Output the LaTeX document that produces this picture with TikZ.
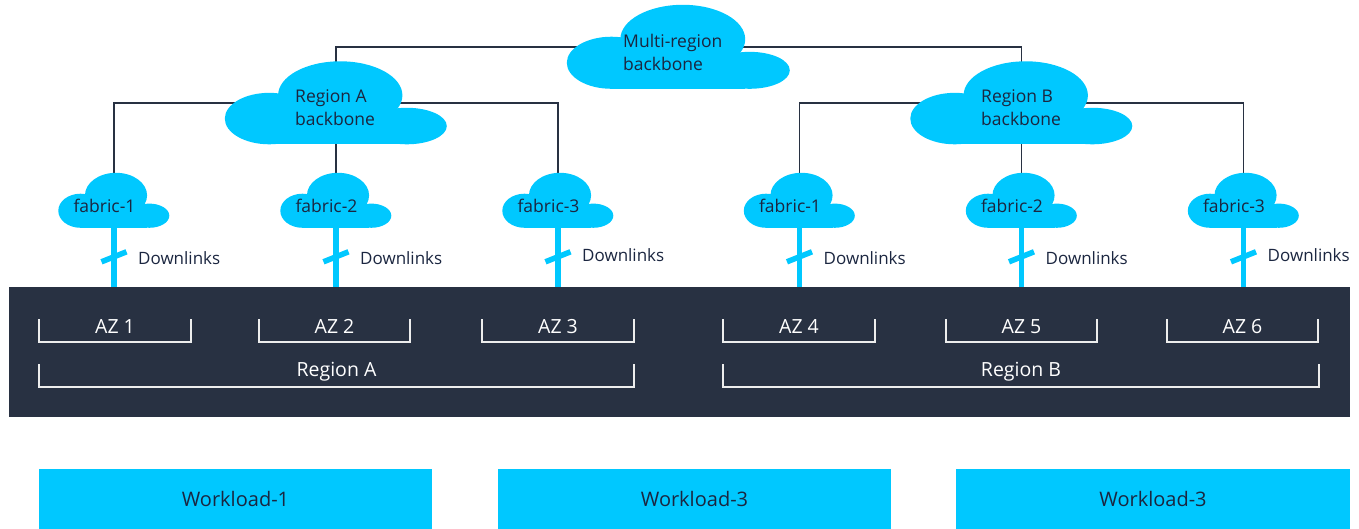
\documentclass[tikz,border=0pt]{standalone}
\usepackage{fontspec}
\setmainfont{Open Sans}
\usetikzlibrary{calc}

\definecolor{sky}{HTML}{00C8FF}
\definecolor{slate}{HTML}{283142}
\definecolor{ink}{HTML}{1B2640}
\definecolor{rulewhite}{HTML}{EDEDED}

% Cloud silhouette filled inside the frame of node #1 (width #2, height #3)
\newcommand\cloudfill[3]{%
  \begin{scope}[shift={(#1.north west)}, xscale=#2, yscale=#3]
    \fill[sky] (0.52,0.41) ellipse [x radius=0.28, y radius=0.41];
    \fill[sky] (0.20,0.69) ellipse [x radius=0.20, y radius=0.31];
    \fill[sky] (0.82,0.78) ellipse [x radius=0.18, y radius=0.22];
    \fill[sky] (0.20,0.60) rectangle (0.80,1);
  \end{scope}}

\begin{document}
\begin{tikzpicture}[x=1pt, y=-1pt,
  cloudbox/.style 2 args={rectangle, inner sep=0pt, minimum width=#1, minimum height=#2},
  cloudlabel/.style={inner sep=0pt, text=ink, align=left, font=\fontsize{17.5}{22.5}\selectfont},
  link/.style={draw=slate, line width=1.5pt},
  downlink/.style={draw=sky, line width=5.5pt},
  dltext/.style={inner sep=0pt, anchor=base west, text=ink, font=\fontsize{17}{20}\selectfont},
  band/.style={fill=slate, inner sep=0pt, minimum width=1341, minimum height=130},
  bracket/.style={draw=rulewhite, line width=1.8pt},
  zone/.style={inner sep=0pt, anchor=base, text=white, font=\fontsize{19.5}{22}\selectfont},
  work/.style={fill=sky, inner sep=0pt, minimum height=60, text=ink, font=\fontsize{20}{24}\selectfont}]

\useasboundingbox (0,0) rectangle (1359,529);

% frames of the clouds
\node[cloudbox={223}{84}] (mr) at (678.5,47) {};
\node[cloudbox={222}{83}] (ra) at (336,103) {};
\node[cloudbox={222}{83}] (rb) at (1021.5,103) {};
\foreach \n/\x in {f1/114, f2/336, f3/558, f4/799.5, f5/1021.5, f6/1243.5}
  \node[cloudbox={111}{55}] (\n) at (\x,200.5) {};

% dark band with the availability zones
\node[band] (band) at (679.5,352) {};

% backbone links
\draw[link] (mr.center) -| (ra.center);
\draw[link] (mr.center) -| (rb.center);
\draw[link] (ra.center) -| (f1.center);
\draw[link] (ra.center) -- (f2.center);
\draw[link] (ra.center) -| (f3.center);
\draw[link] (rb.center) -| (f4.center);
\draw[link] (rb.center) -- (f5.center);
\draw[link] (rb.center) -| (f6.center);

% downlinks into the zones
\foreach \n in {f1,f2,f3,f4,f5,f6}{
  \draw[downlink] (\n.center) -- (\n.center |- band.north);
  \draw[downlink] ($(\n.center |- band.north)+(-12.5,-25)$) -- ++(25,-10);
}

% clouds
\cloudfill{mr}{223}{84}
\cloudfill{ra}{222}{83}
\cloudfill{rb}{222}{83}
\foreach \n in {f1,f2,f3,f4,f5,f6}{\cloudfill{\n}{111}{55}}

% cloud texts
\node[cloudlabel, anchor=north west] (mrt) at (623,34.5) {Multi-region\\backbone};
\node[cloudlabel, anchor=north west] (rat) at (295,89.5) {Region A\\backbone};
\node[cloudlabel, anchor=north west] (rbt) at (981,89.5) {Region B\\backbone};
\node[cloudlabel, anchor=base] (f1t) at ($(f1.center)+(-9.5,12.5)$) {fabric-1};
\node[cloudlabel, anchor=base] (f2t) at ($(f2.center)+(-9.5,12.5)$) {fabric-2};
\node[cloudlabel, anchor=base] (f3t) at ($(f3.center)+(-9.5,12.5)$) {fabric-3};
\node[cloudlabel, anchor=base] (f4t) at ($(f4.center)+(-9.5,12.5)$) {fabric-1};
\node[cloudlabel, anchor=base] (f5t) at ($(f5.center)+(-9.5,12.5)$) {fabric-2};
\node[cloudlabel, anchor=base] (f6t) at ($(f6.center)+(-9.5,12.5)$) {fabric-3};

% downlink labels
\node[dltext] (d1) at ($(f1.center |- band.north)+(24,-22)$) {Downlinks};
\node[dltext] (d2) at ($(f2.center |- band.north)+(24,-22)$) {Downlinks};
\node[dltext] (d3) at ($(f3.center |- band.north)+(24,-25)$) {Downlinks};
\node[dltext] (d4) at ($(f4.center |- band.north)+(24,-22)$) {Downlinks};
\node[dltext] (d5) at ($(f5.center |- band.north)+(24,-22)$) {Downlinks};
\node[dltext] (d6) at ($(f6.center |- band.north)+(24,-25)$) {Downlinks};

% zone brackets
\draw[bracket] (39,319) |- (191,342) -- (191,319);
\draw[bracket] (259,319) |- (410,342) -- (410,319);
\draw[bracket] (482,319) |- (634,342) -- (634,319);
\draw[bracket] (723,319) |- (875,342) -- (875,319);
\draw[bracket] (946,319) |- (1097,342) -- (1097,319);
\draw[bracket] (1167,319) |- (1318,342) -- (1318,319);
\draw[bracket] (39,364) |- (634,387) -- (634,364);
\draw[bracket] (723,364) |- (1319,387) -- (1319,364);

\node[zone] (az1) at (115,333) {AZ 1};
\node[zone] (az2) at (334.5,333) {AZ 2};
\node[zone] (az3) at (558,333) {AZ 3};
\node[zone] (az4) at (799,333) {AZ 4};
\node[zone] (az5) at (1021.5,333) {AZ 5};
\node[zone] (az6) at (1242.5,333) {AZ 6};
\node[zone] (rga) at (336.5,376) {Region A};
\node[zone] (rgb) at (1021,376) {Region B};

% workload boxes
\node[work, minimum width=393] (w1) at (235.5,499) {Workload-1};
\node[work, minimum width=393] (w2) at (694.5,499) {Workload-3};
\node[work, minimum width=394] (w3) at (1153,499) {Workload-3};
\end{tikzpicture}
\end{document}
